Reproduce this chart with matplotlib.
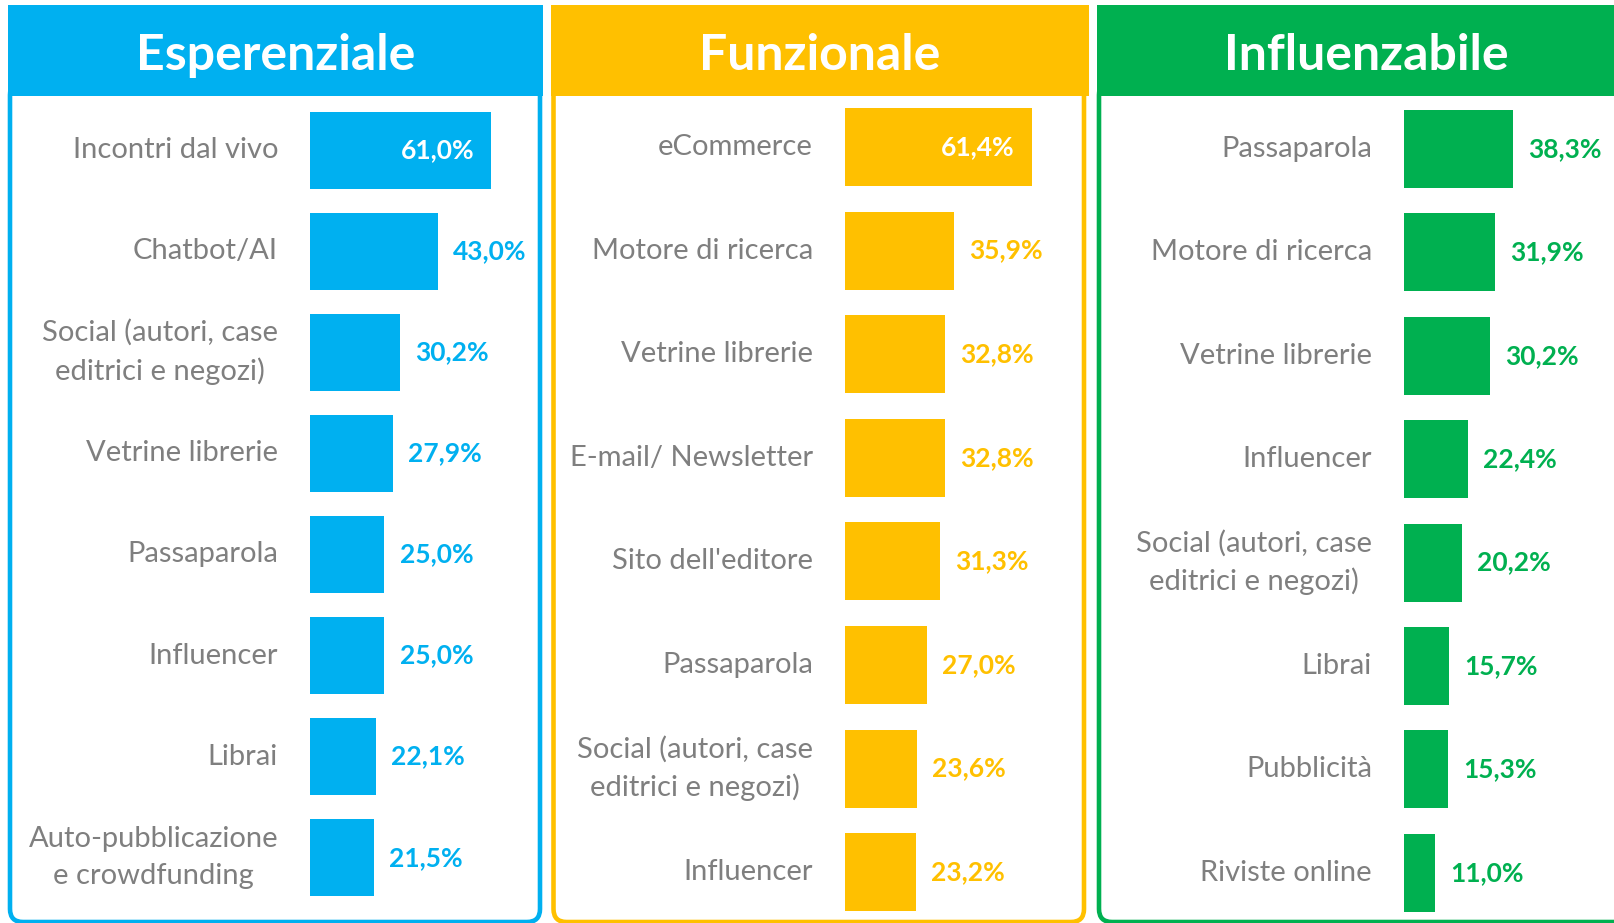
import matplotlib
matplotlib.use("Agg")
import matplotlib.pyplot as plt
from matplotlib.patches import FancyBboxPatch, Rectangle

# dati
titoli = ["Esperenziale", "Funzionale", "Influenzabile"]
colori = ["#00B0F0", "#FFC000", "#00B050"]

cat_esp = ["Incontri dal vivo", "Chatbot/AI", "Social (autori, case\neditrici e negozi)",
           "Vetrine librerie", "Passaparola", "Influencer", "Librai",
           "Auto-pubblicazione\ne crowdfunding"]
val_esp = [61.0, 43.0, 30.2, 27.9, 25.0, 25.0, 22.1, 21.5]

cat_fun = ["eCommerce", "Motore di ricerca", "Vetrine librerie", "E-mail/ Newsletter",
           "Sito dell'editore", "Passaparola", "Social (autori, case\neditrici e negozi)",
           "Influencer"]
val_fun = [61.4, 35.9, 32.8, 32.8, 31.3, 27.0, 23.6, 23.2]

cat_inf = ["Passaparola", "Motore di ricerca", "Vetrine librerie", "Influencer",
           "Social (autori, case\neditrici e negozi)", "Librai", "Pubblicità", "Riviste online"]
val_inf = [38.3, 31.9, 30.2, 22.4, 20.2, 15.7, 15.3, 11.0]

categorie = [cat_esp, cat_fun, cat_inf]
valori = [val_esp, val_fun, val_inf]

# layout in pixel (inizio barre, px per %, centro prima barra, passo, altezza barra,
# bordo box, intestazione)
layout = [
    dict(bx=310, ppp=2.97, y0=150, passo=101.1, bh=77, box=(10, 540), head=(8, 543)),
    dict(bx=845, ppp=3.04, y0=147, passo=103.6, bh=78, box=(553.5, 1084), head=(551, 1089)),
    dict(bx=1404, ppp=2.85, y0=149, passo=103.4, bh=78, box=(1099, 1629), head=(1097, 1635)),
]

W, H = 1614, 923
plt.rcParams["font.family"] = ["Lato", "DejaVu Sans"]
fig = plt.figure(figsize=(W / 100, H / 100), dpi=100)
fig.patch.set_facecolor("white")

# livello di sfondo in coordinate pixel
bg = fig.add_axes([0, 0, 1, 1], zorder=0)
bg.set_xlim(0, W)
bg.set_ylim(H, 0)
bg.axis("off")

grigio = "#7F7F7F"

for titolo, col, cats, vals, lay in zip(titoli, colori, categorie, valori, layout):
    # cornice arrotondata
    bx0, bx1 = lay["box"]
    bg.add_patch(FancyBboxPatch((bx0, 82), bx1 - bx0, 922 - 82,
                                boxstyle="round,pad=0,rounding_size=13",
                                fill=False, ec=col, lw=3.3, zorder=1))
    # intestazione
    hx0, hx1 = lay["head"]
    bg.add_patch(Rectangle((hx0, 5), hx1 - hx0, 91, fc=col, ec="none", zorder=2))
    bg.text((hx0 + hx1) / 2, 55, titolo, ha="center", va="center",
            color="white", fontsize=36, fontweight="bold", zorder=3)

    # assi delle barre
    n = len(vals)
    larg_px = 250
    top = lay["y0"] - lay["passo"] / 2
    alt_px = lay["passo"] * n
    ax = fig.add_axes([lay["bx"] / W, 1 - (top + alt_px) / H, larg_px / W, alt_px / H],
                      zorder=2)
    ax.patch.set_alpha(0)
    ax.set_xlim(0, larg_px / lay["ppp"])
    ax.set_ylim(n - 0.5, -0.5)
    ax.axis("off")

    pos = list(range(n))
    ax.barh(pos, vals, height=lay["bh"] / lay["passo"], color=col, edgecolor="none")

    for i, (c, v) in enumerate(zip(cats, vals)):
        ax.annotate(c, xy=(0, i), xytext=(-23, 0), textcoords="offset points",
                    ha="right", va="center", multialignment="center",
                    fontsize=21, color=grigio, linespacing=1.5, annotation_clip=False)
        testo = f"{v:.1f}%".replace(".", ",")
        if v > 50:
            ax.annotate(testo, xy=(v, i), xytext=(-12, 0), textcoords="offset points",
                        ha="right", va="center", fontsize=19, fontweight="bold",
                        color="white")
        else:
            ax.annotate(testo, xy=(v, i), xytext=(11, 0), textcoords="offset points",
                        ha="left", va="center", fontsize=19, fontweight="bold",
                        color=col, annotation_clip=False)

fig.savefig("out.png", dpi=100, facecolor="white")
